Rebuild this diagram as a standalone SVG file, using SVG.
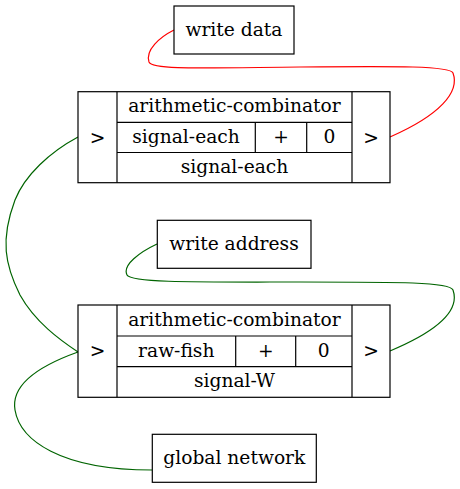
<svg xmlns="http://www.w3.org/2000/svg" width="460" height="489" viewBox="0 0 460 489">
<style>
.b{fill:#fff;stroke:#000;stroke-width:1.2}
.l{fill:none;stroke:#000;stroke-width:1.2}
text{font-family:"DejaVu Serif","Liberation Serif",serif;font-size:18.67px;text-anchor:middle;fill:#000}
.e{fill:none;stroke-width:1.2}
.red{stroke:#ff0000}
.grn{stroke:#006400}
</style>
<rect width="460" height="489" fill="#fff"/>
<g id="connectors">
<path class="e red" d="M174,30 C160,37 145,50 149,62 C152,70 200,68 300,67 C400,66 450,66 453,73 C460,92 440,115 390,137"/>
<path class="e grn" d="M78,137 C50,152 25,175 15,200 C0,240 5,265 20,295 C35,322 60,340 78,352"/>
<path class="e grn" d="M157,244 C140,252 122,265 127,275 C131,283 200,282 300,282 C400,282 450,282 453,290 C460,310 440,330 390,351"/>
<path class="e grn" d="M78,352 C50,362 10,380 15,410 C20,440 60,470 152,470"/>
</g>
<g id="write_data">
<rect class="b" x="174" y="6" width="120" height="48"/>
<text x="234" y="35.5">write data</text>
</g>
<g id="comb1">
<rect class="b" x="78" y="91.7" width="312" height="91"/>
<path class="l" d="M117,91.7 V182.7 M352,91.7 V182.7 M117,122.3 H352 M117,152.5 H352 M255.3,122.3 V152.5 M306.7,122.3 V152.5"/>
<text x="97.5" y="143.5">&gt;</text>
<text x="371" y="143.5">&gt;</text>
<text x="234.5" y="112">arithmetic-combinator</text>
<text x="186" y="143">signal-each</text>
<text x="281" y="143">+</text>
<text x="329.5" y="143">0</text>
<text x="234.5" y="173">signal-each</text>
</g>
<g id="write_address">
<rect class="b" x="157.3" y="220.3" width="153.7" height="48"/>
<text x="234" y="249.5">write address</text>
</g>
<g id="comb2">
<rect class="b" x="78" y="305" width="312" height="92.3"/>
<path class="l" d="M117,305 V397.3 M352,305 V397.3 M117,336 H352 M117,366.7 H352 M235.7,336 V366.7 M295.7,336 V366.7"/>
<text x="97.5" y="357">&gt;</text>
<text x="371" y="357">&gt;</text>
<text x="234.5" y="325.5">arithmetic-combinator</text>
<text x="176.3" y="356.5">raw-fish</text>
<text x="265.7" y="356.5">+</text>
<text x="323.8" y="356.5">0</text>
<text x="234.5" y="387">signal-W</text>
</g>
<g id="global_network">
<rect class="b" x="152.3" y="434.3" width="164" height="48"/>
<text x="234.3" y="463.5">global network</text>
</g>
</svg>
